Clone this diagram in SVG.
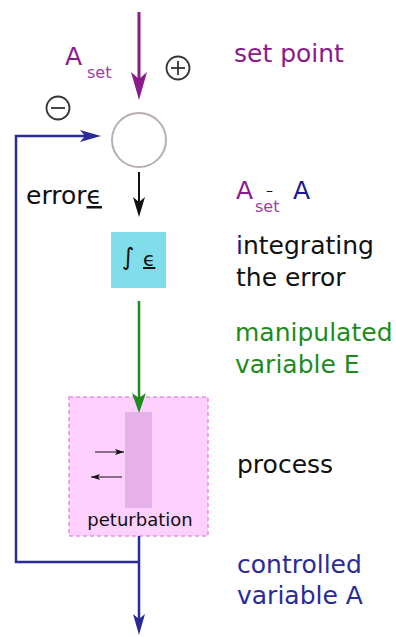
<svg xmlns="http://www.w3.org/2000/svg" width="396" height="637" viewBox="0 0 396 637">
  <style>
    text { font-family: "DejaVu Sans", Verdana, sans-serif; }
    .lbl { font-size: 25px; }
    .purple { fill: #8b1a8b; }
    .subp { fill: #a23ea2; font-size: 16px; }
    .blue { fill: #2b2b96; }
    .navy { fill: #1a1a8a; }
    .green { fill: #1e8b1e; }
    .dark { fill: #111; }
    .sign { fill: none; stroke: #333; stroke-width: 1.8; }
  </style>
  <defs>
    <marker id="ahPurple" viewBox="-30 -9 31 18" refX="-10" refY="0" markerWidth="31" markerHeight="18" markerUnits="userSpaceOnUse" orient="auto">
      <path d="M0,0 L-28,-8 L-21,0 L-28,8 Z" fill="#8b1a8b"/>
    </marker>
    <marker id="ahBlack" viewBox="-22 -7 23 14" refX="-8" refY="0" markerWidth="23" markerHeight="14" markerUnits="userSpaceOnUse" orient="auto">
      <path d="M0,0 L-20,-6 L-15,0 L-20,6 Z" fill="#111"/>
    </marker>
    <marker id="ahGreen" viewBox="-22 -8 23 16" refX="-8" refY="0" markerWidth="23" markerHeight="16" markerUnits="userSpaceOnUse" orient="auto">
      <path d="M0,0 L-20,-7 L-15,0 L-20,7 Z" fill="#1e8b1e"/>
    </marker>
    <marker id="ahBlue" viewBox="-24 -7 25 14" refX="-8" refY="0" markerWidth="25" markerHeight="14" markerUnits="userSpaceOnUse" orient="auto">
      <path d="M0,0 L-21,-6 L-16,0 L-21,6 Z" fill="#2b2b96"/>
    </marker>
    <marker id="ahSmallR" viewBox="-9 -4 10 8" refX="0" refY="0" markerWidth="10" markerHeight="8" markerUnits="userSpaceOnUse" orient="auto">
      <path d="M0,0 L-9,-3 L-7,0 L-9,3 Z" fill="#111"/>
    </marker>
  </defs>

  <g id="setpoint-input">
    <text x="65" y="65" class="lbl purple">A</text>
    <text x="87" y="78" class="subp">set</text>
    <g id="plus-sign" class="sign">
      <circle cx="178" cy="68" r="11.5"/>
      <line x1="171" y1="68" x2="185" y2="68"/>
      <line x1="178" y1="61" x2="178" y2="75"/>
    </g>
    <text x="234" y="62" class="lbl purple">set point</text>
  </g>

  <g id="comparator">
    <circle cx="139" cy="140" r="27" fill="#fff" stroke="#b8b0b0" stroke-width="2"/>
    <g id="minus-sign" class="sign">
      <circle cx="58" cy="108" r="11.5"/>
      <line x1="51" y1="108" x2="65" y2="108"/>
    </g>
  </g>

  <g id="error-label">
    <text x="26" y="204" class="lbl dark">error<tspan text-decoration="underline">ϵ</tspan></text>
    <text x="236" y="199" class="lbl purple">A</text>
    <text x="255" y="212" class="subp">set</text>
    <text x="266" y="195" style="font-size:14px" class="dark">–</text>
    <text x="293" y="199" class="lbl navy">A</text>
  </g>

  <g id="integrator">
    <rect x="111" y="232" width="55" height="56" fill="#80deea"/>
    <text x="122" y="265" style="font-size:24px" class="dark">∫</text>
    <text x="143" y="266" style="font-size:20px" class="dark" text-decoration="underline">ϵ</text>
    <text x="236" y="254" class="lbl dark"><tspan class="navy">i</tspan>ntegrating</text>
    <text x="236" y="286" class="lbl dark">the error</text>
  </g>

  <g id="manipulated-label">
    <text x="235" y="341" class="lbl green">manipulated</text>
    <text x="235" y="373" class="lbl green">variable E</text>
  </g>

  <g id="process">
    <rect x="69" y="397" width="139" height="139" fill="#fdd0fd" stroke="#e88ee8" stroke-width="1.5" stroke-dasharray="4 3"/>
    <rect x="125" y="412" width="27" height="96" fill="#e6b0ea"/>
    <line x1="95" y1="452" x2="124" y2="452" stroke="#111" stroke-width="1" marker-end="url(#ahSmallR)"/>
    <line x1="122" y1="477" x2="91" y2="477" stroke="#111" stroke-width="1" marker-end="url(#ahSmallR)"/>
    <text x="140" y="526" style="font-size:18px" class="dark" text-anchor="middle">peturbation</text>
    <text x="237" y="473" class="lbl dark">process</text>
  </g>

  <g id="controlled-label">
    <text x="237" y="573" class="lbl blue">controlled</text>
    <text x="237" y="604" class="lbl blue">variable A</text>
  </g>

  <g id="connectors" fill="none">
    <line x1="139" y1="12" x2="139" y2="90" stroke="#8b1a8b" stroke-width="3" marker-end="url(#ahPurple)"/>
    <polyline points="139,562 16,562 16,136 93,136" stroke="#2b2b96" stroke-width="2.5" marker-end="url(#ahBlue)"/>
    <line x1="139" y1="172" x2="139" y2="209" stroke="#111" stroke-width="2" marker-end="url(#ahBlack)"/>
    <line x1="139" y1="301" x2="139" y2="405" stroke="#1e8b1e" stroke-width="2.5" marker-end="url(#ahGreen)"/>
    <line x1="139" y1="536" x2="139" y2="627" stroke="#2b2b96" stroke-width="2.5" marker-end="url(#ahBlue)"/>
  </g>
</svg>
